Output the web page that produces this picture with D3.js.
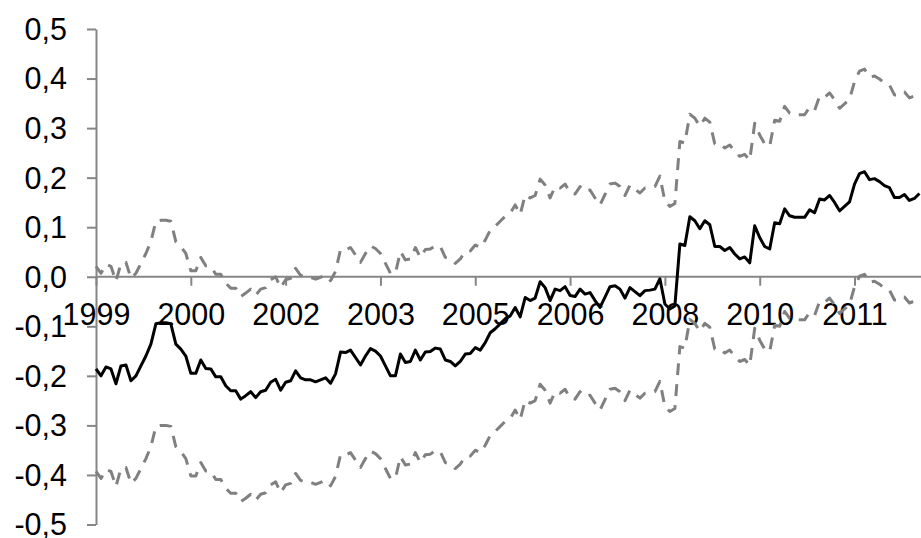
<!DOCTYPE html>
<html><head><meta charset="utf-8">
<script src="https://cdn.jsdelivr.net/npm/d3@7"></script>
<style>html,body{margin:0;padding:0;background:#fff;} svg{display:block;}</style>
</head><body><svg id="chart" width="921" height="538"></svg>
<script>
// Monthly observations, January 1999 onward
const estimate = [
-0.186,-0.200,-0.182,-0.186,-0.216,-0.180,-0.178,-0.210,-0.200,-0.180,
-0.160,-0.136,-0.095,-0.093,-0.093,-0.095,-0.136,-0.146,-0.160,-0.195,
-0.195,-0.168,-0.185,-0.186,-0.202,-0.202,-0.220,-0.230,-0.230,-0.247,
-0.240,-0.232,-0.244,-0.232,-0.229,-0.213,-0.207,-0.229,-0.213,-0.210,
-0.190,-0.204,-0.208,-0.208,-0.212,-0.208,-0.204,-0.215,-0.196,-0.152,
-0.153,-0.148,-0.163,-0.178,-0.160,-0.145,-0.150,-0.160,-0.180,-0.200,
-0.200,-0.156,-0.173,-0.171,-0.148,-0.168,-0.152,-0.151,-0.144,-0.146,
-0.168,-0.171,-0.180,-0.171,-0.156,-0.155,-0.143,-0.148,-0.133,-0.113,
-0.105,-0.095,-0.085,-0.079,-0.062,-0.081,-0.042,-0.048,-0.043,-0.010,
-0.022,-0.048,-0.025,-0.028,-0.020,-0.038,-0.040,-0.025,-0.035,-0.032,
-0.048,-0.062,-0.041,-0.020,-0.018,-0.025,-0.043,-0.022,-0.030,-0.038,
-0.028,-0.027,-0.025,-0.004,-0.055,-0.065,-0.059,0.066,0.063,0.121,
0.113,0.097,0.113,0.105,0.061,0.061,0.053,0.059,0.046,0.036,
0.040,0.028,0.103,0.079,0.061,0.056,0.109,0.107,0.137,0.123,
0.120,0.120,0.120,0.135,0.129,0.157,0.155,0.164,0.150,0.133,
0.142,0.151,0.187,0.208,0.212,0.196,0.198,0.192,0.184,0.180,
0.160,0.160,0.166,0.154,0.158,0.168
];
const upperBand = [
0.021,0.007,0.025,0.021,-0.009,0.027,0.029,-0.003,0.007,0.027,
0.047,0.071,0.112,0.114,0.114,0.112,0.071,0.061,0.047,0.012,
0.012,0.039,0.022,0.021,0.005,0.005,-0.013,-0.023,-0.023,-0.040,
-0.033,-0.025,-0.037,-0.025,-0.022,-0.006,0.000,-0.022,-0.006,-0.003,
0.017,0.003,-0.001,-0.001,-0.005,-0.001,0.003,-0.008,0.011,0.055,
0.054,0.059,0.044,0.029,0.047,0.062,0.057,0.047,0.027,0.007,
0.007,0.051,0.034,0.036,0.059,0.039,0.055,0.056,0.063,0.061,
0.039,0.036,0.027,0.036,0.051,0.052,0.064,0.059,0.074,0.094,
0.102,0.112,0.122,0.128,0.145,0.126,0.165,0.159,0.164,0.197,
0.185,0.159,0.182,0.179,0.187,0.169,0.167,0.182,0.172,0.175,
0.159,0.145,0.166,0.187,0.189,0.182,0.164,0.185,0.177,0.169,
0.179,0.180,0.182,0.203,0.152,0.142,0.148,0.273,0.270,0.328,
0.320,0.304,0.320,0.312,0.268,0.268,0.260,0.266,0.253,0.243,
0.247,0.235,0.310,0.286,0.268,0.263,0.316,0.314,0.344,0.330,
0.327,0.327,0.327,0.342,0.336,0.364,0.362,0.371,0.357,0.340,
0.349,0.358,0.394,0.415,0.419,0.403,0.405,0.399,0.391,0.387,
0.367,0.367,0.373,0.361,0.365,0.375
];
const lowerBand = [
-0.393,-0.407,-0.389,-0.393,-0.423,-0.387,-0.385,-0.417,-0.407,-0.387,
-0.367,-0.343,-0.302,-0.300,-0.300,-0.302,-0.343,-0.353,-0.367,-0.402,
-0.402,-0.375,-0.392,-0.393,-0.409,-0.409,-0.427,-0.437,-0.437,-0.454,
-0.447,-0.439,-0.451,-0.439,-0.436,-0.420,-0.414,-0.436,-0.420,-0.417,
-0.397,-0.411,-0.415,-0.415,-0.419,-0.415,-0.411,-0.422,-0.403,-0.359,
-0.360,-0.355,-0.370,-0.385,-0.367,-0.352,-0.357,-0.367,-0.387,-0.407,
-0.407,-0.363,-0.380,-0.378,-0.355,-0.375,-0.359,-0.358,-0.351,-0.353,
-0.375,-0.378,-0.387,-0.378,-0.363,-0.362,-0.350,-0.355,-0.340,-0.320,
-0.312,-0.302,-0.292,-0.286,-0.269,-0.288,-0.249,-0.255,-0.250,-0.217,
-0.229,-0.255,-0.232,-0.235,-0.227,-0.245,-0.247,-0.232,-0.242,-0.239,
-0.255,-0.269,-0.248,-0.227,-0.225,-0.232,-0.250,-0.229,-0.237,-0.245,
-0.235,-0.234,-0.232,-0.211,-0.262,-0.272,-0.266,-0.141,-0.144,-0.086,
-0.094,-0.110,-0.094,-0.102,-0.146,-0.146,-0.154,-0.148,-0.161,-0.171,
-0.167,-0.179,-0.104,-0.128,-0.146,-0.151,-0.098,-0.100,-0.070,-0.084,
-0.087,-0.087,-0.087,-0.072,-0.078,-0.050,-0.052,-0.043,-0.057,-0.074,
-0.065,-0.056,-0.020,0.001,0.005,-0.011,-0.009,-0.015,-0.023,-0.027,
-0.047,-0.047,-0.041,-0.053,-0.049,-0.039
];
const yTicks = [0.5,0.4,0.3,0.2,0.1,0,-0.1,-0.2,-0.3,-0.4,-0.5];
const xTickIndex = [0,19,38,57,76,95,114,133,152];
const xTickLabels = ["1999","2000","2002","2003","2005","2006","2008","2010","2011"];

const svg = d3.select("#chart");
const axisColor = "#868686";
const fontFamily = "'Liberation Sans', Arial, sans-serif";
const fontSize = 30.5;

const x = d3.scaleLinear().domain([0, estimate.length - 1]).range([96, 919.4]);
const y = d3.scaleLinear().domain([-0.5, 0.5]).range([524.5, 29]);

const loc = d3.formatLocale({decimal: ",", thousands: ".", grouping: [3], currency: ["", ""], minus: "-"});
const fmt = loc.format(".1f");

// Y axis
const yAxis = d3.axisLeft(y).tickValues(yTicks).tickFormat(fmt).tickSize(9).tickSizeOuter(0).tickPadding(20);
const gy = svg.append("g").attr("transform", "translate(96,0)").call(yAxis);
gy.select(".domain").attr("stroke", axisColor).attr("stroke-width", 2);
gy.selectAll(".tick line").attr("stroke", axisColor).attr("stroke-width", 2);
gy.selectAll(".tick text").attr("fill", "#000").style("font-family", fontFamily).style("font-size", fontSize + "px").attr("dy", "0.34em");

// X axis at y = 0
const xAxis = d3.axisBottom(x).tickValues(xTickIndex).tickFormat((d, i) => xTickLabels[i]).tickSize(9).tickSizeOuter(0).tickPadding(17.5);
const gx = svg.append("g").attr("transform", `translate(0,${y(0)})`).call(xAxis);
gx.select(".domain").remove();
gx.append("line").attr("x1", 96).attr("x2", 921).attr("y1", 0).attr("y2", 0).attr("stroke", axisColor).attr("stroke-width", 2);
gx.selectAll(".tick line").attr("stroke", axisColor).attr("stroke-width", 2);
gx.selectAll(".tick text").attr("fill", "#000").style("font-family", fontFamily).style("font-size", fontSize + "px");

const line = d3.line().x((d, i) => x(i)).y(d => y(d));

svg.append("path").datum(upperBand).attr("d", line).attr("fill", "none")
  .attr("stroke", "#808080").attr("stroke-width", 3).attr("stroke-dasharray", "12,9").attr("stroke-linejoin", "round");
svg.append("path").datum(lowerBand).attr("d", line).attr("fill", "none")
  .attr("stroke", "#808080").attr("stroke-width", 3).attr("stroke-dasharray", "12,9").attr("stroke-linejoin", "round");
svg.append("path").datum(estimate).attr("d", line).attr("fill", "none")
  .attr("stroke", "#000").attr("stroke-width", 3).attr("stroke-linejoin", "round");
</script>
</body></html>
